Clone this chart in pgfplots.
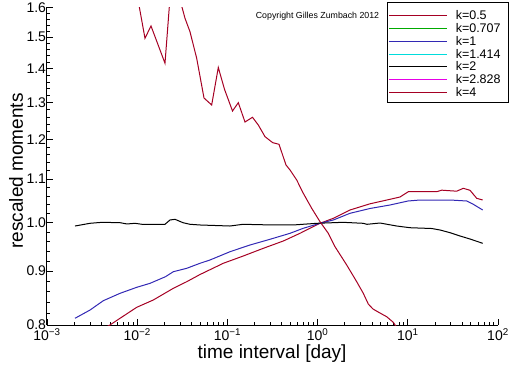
\documentclass[border=0pt]{standalone}
\usepackage{fontspec}
\setmainfont{Liberation Sans}
\usepackage{pgfplots}
\pgfplotsset{compat=1.18}
\definecolor{kred}{RGB}{165,0,35}
\definecolor{kblue}{RGB}{50,40,180}
\definecolor{kgreen}{RGB}{0,170,0}
\definecolor{kcyan}{RGB}{0,220,220}
\definecolor{kmag}{RGB}{230,0,230}
\begin{document}
\begin{tikzpicture}
\useasboundingbox (-47bp,-41bp) rectangle (465bp,325bp);
\begin{axis}[
  at={(0,0)}, anchor=south west,
  scale only axis, width=451bp, height=317.5bp,
  xmode=log, ymode=log,
  xmin=1e-3, xmax=1e2, ymin=0.8, ymax=1.6,
  axis x line*=bottom, axis y line*=left,
  axis line style={line width=1bp, black},
  tick align=inside,
  major tick length=6bp, minor tick length=3.5bp,
  every tick/.style={black, line width=0.8bp},
  xtick={1e-3,1e-2,1e-1,1,10,100},
  xticklabels={10\textsuperscript{−3},10\textsuperscript{−2},10\textsuperscript{−1},10\textsuperscript{0},10\textsuperscript{1},10\textsuperscript{2}},
  ytick={0.8,0.9,1.0,1.1,1.2,1.3,1.4,1.5,1.6},
  yticklabels={0.8,0.9,1.0,1.1,1.2,1.3,1.4,1.5,1.6},
  minor ytick={0.82,0.84,0.86,0.88,0.92,0.94,0.96,0.98,1.02,1.04,1.06,1.08,1.12,1.14,1.16,1.18,1.22,1.24,1.26,1.28,1.32,1.34,1.36,1.38,1.42,1.44,1.46,1.48,1.52,1.54,1.56,1.58},
  ticklabel style={font=\fontsize{14bp}{16bp}\selectfont},
  yticklabel style={xshift=2.5bp},
  xlabel={time interval [day]}, ylabel={rescaled moments},
  label style={font=\fontsize{19bp}{22bp}\selectfont},
  xlabel style={at={(axis description cs:0.499,-0.0913)}, anchor=center},
  ylabel style={at={(axis description cs:-0.0687,0.485)}, anchor=center},
]
% k=0.5
\addplot[kred, line width=1bp, no markers] coordinates {
(2.043e-3,0.7658) (4.99e-3,0.8000) (6.45e-3,0.8118) (9.874e-3,0.8315) (1.508e-2,0.8449)
(2.513e-2,0.8667) (3.538e-2,0.8793) (4.968e-2,0.8932) (9.007e-2,0.9154) (0.1501,0.9301)
(0.2500,0.9458) (0.4166,0.9610) (0.6381,0.9773) (1.063,0.9989) (1.494,1.0098)
(2.287,1.0283) (3.809,1.0423) (6.348,1.0526) (8.195,1.0579) (10.13,1.0702)
(20.92,1.0702) (23.76,1.0738) (34.84,1.0714) (41.24,1.0782) (48.94,1.0735)
(58.06,1.0549) (67.69,1.0510)
};
% k=1
\addplot[kblue, line width=1bp, no markers] coordinates {
(2.043e-3,0.8118) (3.0e-3,0.8266) (4.209e-3,0.8436) (6.45e-3,0.8573) (9.874e-3,0.8686)
(1.387e-2,0.8762) (2.059e-2,0.8890) (2.513e-2,0.8987) (3.538e-2,0.9054) (4.968e-2,0.9154)
(6.414e-2,0.9220) (0.1069,0.9388) (0.1781,0.9527) (0.2967,0.9646) (0.4943,0.9773)
(0.6941,0.9881) (1.063,0.9989) (1.494,1.0061) (2.287,1.0209) (3.809,1.0317)
(6.348,1.0396) (10.05,1.0487) (13.66,1.0510) (29.37,1.0510) (44.98,1.0487)
(53.23,1.0412) (67.69,1.0283)
};
% k=2
\addplot[black, line width=1bp, no markers] coordinates {
(2.043e-3,0.9930) (3.0e-3,0.9989) (4.07e-3,1.0010) (6.45e-3,1.0002) (7.71e-3,0.9974)
(9.45e-3,0.9989) (1.130e-2,0.9967) (2.033e-2,0.9967) (2.31e-2,1.0061) (2.625e-2,1.0076)
(3.219e-2,1.0002) (3.848e-2,0.9967) (4.968e-2,0.9952) (0.1069,0.9930) (0.1489,0.9967)
(0.3203,0.9952) (0.5337,0.9952) (0.9847,0.9989) (1.912,1.0010) (3.187,0.9989)
(3.530,0.9967) (4.918,0.9995) (7.533,0.9930) (10.58,0.9893) (18.41,0.9876)
(22.75,0.9844) (29.37,0.9786) (37.90,0.9716) (48.94,0.9652) (67.69,0.9562)
};
% k=4
\addplot[kred, line width=1bp, no markers] coordinates {
(1.0076e-2,1.6371) (1.22e-2,1.4960) (1.4223e-2,1.5367) (2.033e-2,1.4165) (2.310e-2,1.6336)
(2.693e-2,1.6806) (3.388e-2,1.5628) (3.848e-2,1.5177) (4.566e-2,1.4321) (5.503e-2,1.3131)
(6.695e-2,1.2932) (7.93e-2,1.4036) (9.286e-2,1.3383) (0.1139,1.2764) (0.1321,1.2997)
(0.1567,1.2461) (0.1898,1.2590) (0.2201,1.2380) (0.2612,1.2068) (0.3180,1.1911)
(0.3734,1.1869) (0.4463,1.1345) (0.4943,1.1222) (0.5866,1.0979) (0.6941,1.0665)
(0.8605,1.0321) (1.063,1.0024) (1.314,0.9773) (1.560,0.9491) (2.102,0.9120)
(2.714,0.8793) (3.211,0.8573) (3.648,0.8375) (4.113,0.8284) (4.918,0.8212)
(5.837,0.8146) (6.906,0.8047) (8.195,0.7879)
};
\node[font=\fontsize{8.8bp}{10bp}\selectfont, anchor=center] at (axis description cs:0.5998,0.9732) {Copyright Gilles Zumbach 2012};
\end{axis}
% legend box
\draw[line width=1bp, black] (340.5bp,222.5bp) rectangle (461.5bp,322.5bp);
\begin{scope}[line width=1.5bp, every node/.style={anchor=base west, inner sep=0pt, font=\fontsize{12.5bp}{14bp}\selectfont}]
\draw[kred]   (342bp,309.5bp) -- (400bp,309.5bp); \node at (408bp,305bp) {k=0.5};
\draw[kgreen] (342bp,296.5bp) -- (400bp,296.5bp); \node at (408bp,292bp) {k=0.707};
\draw[kblue]  (342bp,283.5bp) -- (400bp,283.5bp); \node at (408bp,279bp) {k=1};
\draw[kcyan]  (342bp,270.5bp) -- (400bp,270.5bp); \node at (408bp,266bp) {k=1.414};
\draw[black]  (342bp,258.5bp) -- (400bp,258.5bp); \node at (408bp,254bp) {k=2};
\draw[kmag]   (342bp,245.5bp) -- (400bp,245.5bp); \node at (408bp,241bp) {k=2.828};
\draw[kred]   (342bp,232.5bp) -- (400bp,232.5bp); \node at (408bp,228bp) {k=4};
\end{scope}
\end{tikzpicture}
\end{document}
